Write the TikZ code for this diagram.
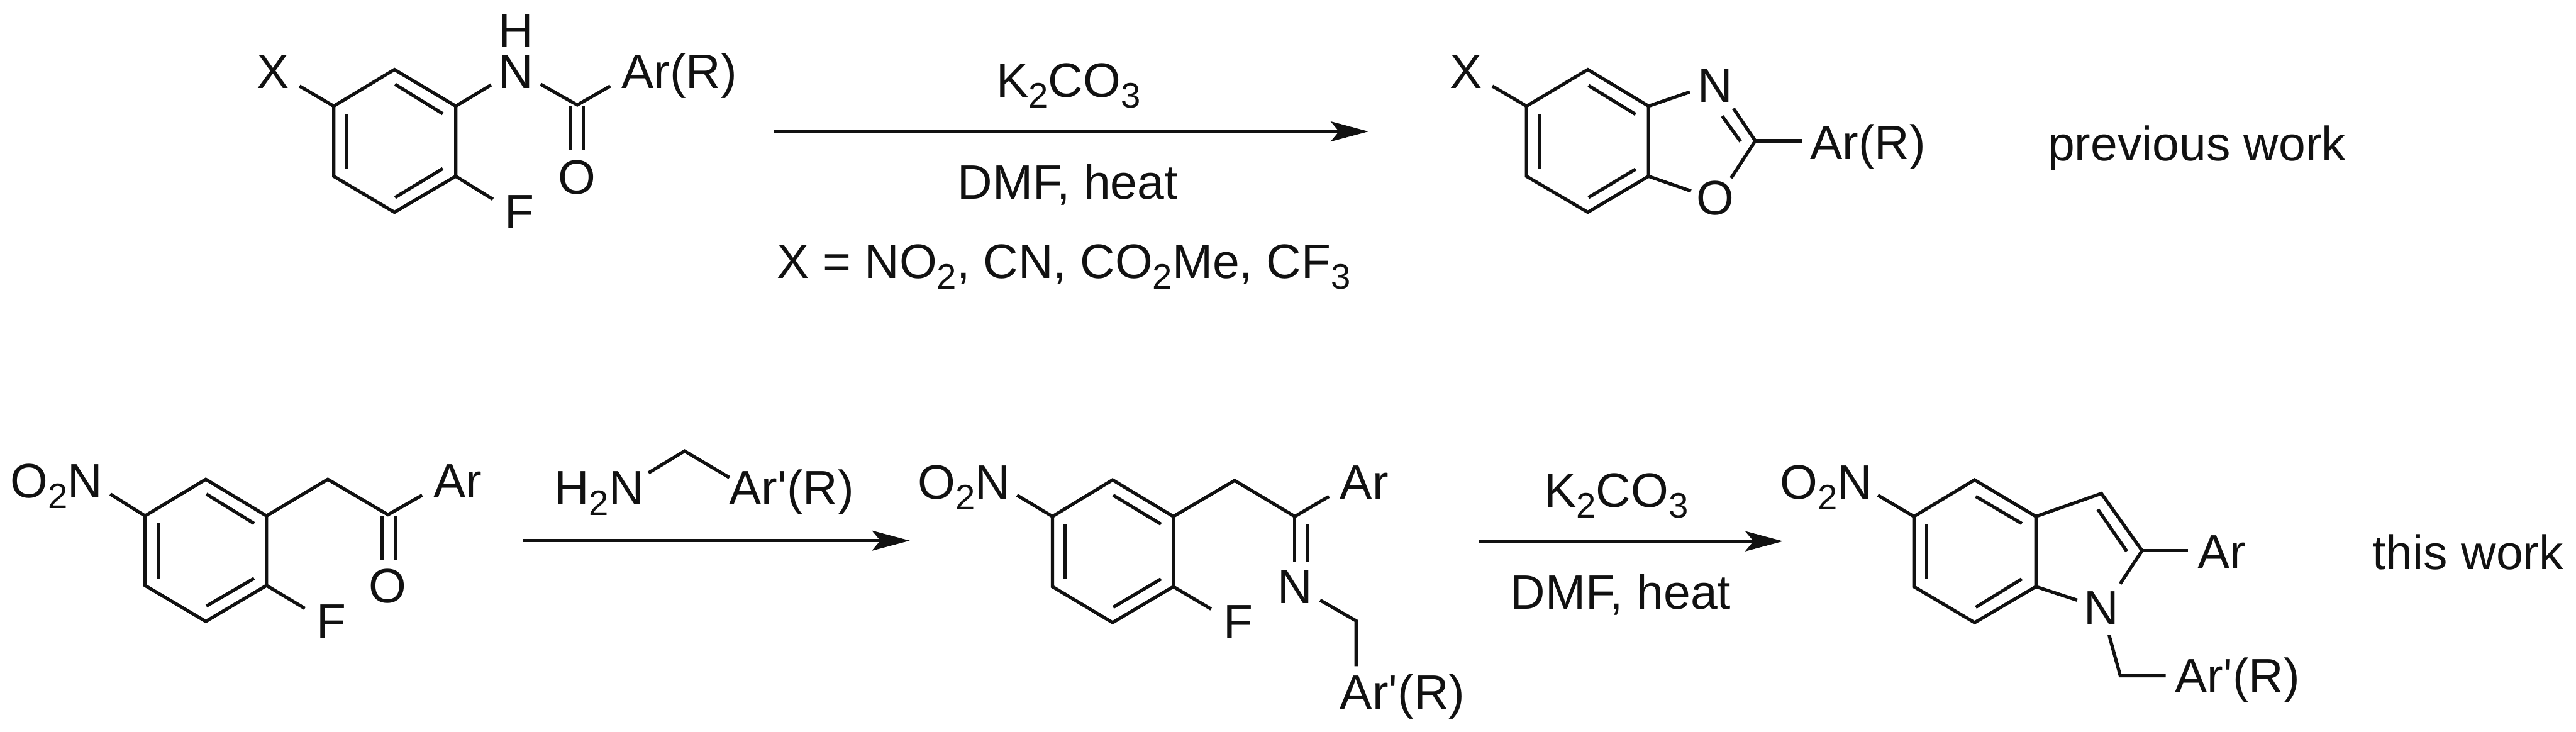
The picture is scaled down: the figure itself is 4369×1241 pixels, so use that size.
\documentclass[tikz,border=0pt]{standalone}
\usepackage{fontspec}
\setmainfont{Liberation Sans}
\newfontfamily\plainf{Liberation Sans}
\usetikzlibrary{arrows.meta}
\definecolor{ink}{HTML}{111111}
\newcommand{\sbs}[1]{\raisebox{-9pt}{\fontsize{30}{30}\selectfont #1}}
\newcommand{\prm}{{\plainf\symbol{39}}}
\tikzset{
  bond/.style={draw=ink,line width=2.8pt,line join=miter,line cap=butt},
  rxn/.style={draw=ink,line width=2.6pt,-{Stealth[length=32pt,width=17pt,inset=7pt]}},
  lbl/.style={inner sep=0pt,outer sep=0pt,text=ink,anchor=base,font=\fontsize{41}{48}\selectfont},
  lblw/.style={lbl,anchor=base west}
}
\begin{document}
\begin{tikzpicture}[x=0.5pt,y=-0.5pt]
\useasboundingbox (0,0) rectangle (4369,1241);
% molecule 1
\foreach \nm/\px/\py in {a1/669/118,a2/773/180,a3/773/299,a4/669/360,a5/566/299,a6/566/180,
  ax/508/146,an/833/144,an2/917/143,ac/979/178,aar/1035/146,af/836/338,
  ad1/968/180,ad2/968/255,ad3/989/180,ad4/989/255,
  ai1/670/143,ai2/751/193,ai3/588/193,ai4/588/286,ai5/751/286,ai6/670/335}
  \coordinate (\nm) at (\px,\py);
\draw[bond] (a1)--(a2)--(a3)--(a4)--(a5)--(a6)--cycle;
\draw[bond] (ai1)--(ai2);
\draw[bond] (ai3)--(ai4);
\draw[bond] (ai5)--(ai6);
\draw[bond] (a6)--(ax);
\draw[bond] (a2)--(an);
\draw[bond] (an2)--(ac)--(aar);
\draw[bond] (a3)--(af);
\draw[bond] (ad1)--(ad2);
\draw[bond] (ad3)--(ad4);
\node[lbl] (aX) at (463,150) {X};
\node[lbl] (aN) at (875,150) {N};
\node[lbl] (aH) at (875,81) {H};
\node[lblw] (aAr) at (1054,150) {Ar(R)};
\node[lbl] (aO) at (979,329) {O};
\node[lblw] (aF) at (856,388) {F};
% arrow 1
\coordinate (r1s) at (1313,223);
\coordinate (r1e) at (2321,223);
\draw[rxn] (r1s)--(r1e);
\node[lblw] (r1a) at (1690,165) {K\sbs{2}CO\sbs{3}};
\node[lblw] (r1b) at (1624,338) {DMF, heat};
\node[lblw] (r1c) at (1318,472) {X = NO\sbs{2}, CN, CO\sbs{2}Me, CF\sbs{3}};
% molecule 2
\foreach \nm/\px/\py in {b1/2693/118,b2/2796/180,b3/2796/299,b4/2693/360,b5/2589/299,b6/2589/180,
  bx/2531/146,bn/2866/156,bc/2977/239,bno/2940/184,bni/2921/197,bci/2952/240,
  bar/3056/239,bo/2936/302,bo2/2868/324,
  bi1/2694/145,bi2/2774/194,bi3/2611/193,bi4/2611/287,bi5/2774/287,bi6/2694/335}
  \coordinate (\nm) at (\px,\py);
\draw[bond] (b1)--(b2)--(b3)--(b4)--(b5)--(b6)--cycle;
\draw[bond] (bi1)--(bi2);
\draw[bond] (bi3)--(bi4);
\draw[bond] (bi5)--(bi6);
\draw[bond] (b6)--(bx);
\draw[bond] (b2)--(bn);
\draw[bond] (bno)--(bc)--(bo);
\draw[bond] (bni)--(bci);
\draw[bond] (bc)--(bar);
\draw[bond] (b3)--(bo2);
\node[lbl] (bX) at (2486,150) {X};
\node[lbl] (bN) at (2909,173) {N};
\node[lbl] (bO) at (2909,364) {O};
\node[lblw] (bAr) at (3070,270) {Ar(R)};
\node[lblw] (prev) at (3473,272) {previous work};
% molecule 3
\foreach \nm/\px/\py in {c1/349/813,c2/452/875,c3/452/993,c4/349/1054,c5/246/993,c6/246/875,
  cx/187/838,cch/556/813,cc/658/873,car/716/840,cf/517/1032,
  cd1/648/875,cd2/648/950,cd3/670/875,cd4/670/950,
  ci1/350/838,ci2/431/888,ci3/268/887,ci4/268/981,ci5/431/981,ci6/350/1028}
  \coordinate (\nm) at (\px,\py);
\draw[bond] (c1)--(c2)--(c3)--(c4)--(c5)--(c6)--cycle;
\draw[bond] (ci1)--(ci2);
\draw[bond] (ci3)--(ci4);
\draw[bond] (ci5)--(ci6);
\draw[bond] (c6)--(cx);
\draw[bond] (c2)--(cch)--(cc)--(car);
\draw[bond] (c3)--(cf);
\draw[bond] (cd1)--(cd2);
\draw[bond] (cd3)--(cd4);
\node[lblw] (cN) at (18,844) {O\sbs{2}N};
\node[lblw] (cAr) at (735,844) {Ar};
\node[lbl] (cO) at (658,1022) {O};
\node[lblw] (cF) at (537,1082) {F};
% arrow 2
\coordinate (r2s) at (887,917);
\coordinate (r2e) at (1543,917);
\draw[rxn] (r2s)--(r2e);
\foreach \nm/\px/\py in {e1/1100/802,e2/1161/765,e3/1237/810}
  \coordinate (\nm) at (\px,\py);
\draw[bond] (e1)--(e2)--(e3);
\node[lblw] (eN) at (940,856) {H\sbs{2}N};
\node[lblw] (eAr) at (1237,856) {Ar\prm(R)};
% molecule 4
\foreach \nm/\px/\py in {d1/1887/814,d2/1990/876,d3/1990/995,d4/1887/1056,d5/1785/995,d6/1785/876,
  dx/1725/840,dch/2094/815,dc/2196/876,dar/2254/842,df/2054/1033,
  dd1/2196/952,dd2/2217/889,dd3/2217/952,dn/2239/1018,dm/2300/1053,dq/2300/1130,
  di1/1888/840,di2/1969/889,di3/1806/889,di4/1806/982,di5/1969/982,di6/1888/1030}
  \coordinate (\nm) at (\px,\py);
\draw[bond] (d1)--(d2)--(d3)--(d4)--(d5)--(d6)--cycle;
\draw[bond] (di1)--(di2);
\draw[bond] (di3)--(di4);
\draw[bond] (di5)--(di6);
\draw[bond] (d6)--(dx);
\draw[bond] (d2)--(dch)--(dc)--(dar);
\draw[bond] (dc)--(dd1);
\draw[bond] (dd2)--(dd3);
\draw[bond] (d3)--(df);
\draw[bond] (dn)--(dm)--(dq);
\node[lblw] (dN) at (1557,846) {O\sbs{2}N};
\node[lblw] (dAr) at (2273,846) {Ar};
\node[lbl] (dNi) at (2196,1023) {N};
\node[lblw] (dF) at (2075,1083) {F};
\node[lblw] (dAp) at (2273,1203) {Ar\prm(R)};
% arrow 3
\coordinate (r3s) at (2508,918);
\coordinate (r3e) at (3024,918);
\draw[rxn] (r3s)--(r3e);
\node[lblw] (r3a) at (2619,860) {K\sbs{2}CO\sbs{3}};
\node[lblw] (r3b) at (2562,1033) {DMF, heat};
% molecule 5
\foreach \nm/\px/\py in {f1/3349/814,f2/3453/876,f3/3453/995,f4/3349/1056,f5/3246/995,f6/3246/876,
  fx/3185/840,fc3/3564/837,fc2/3633/934,far/3711/934,fi7/3558/864,fi8/3607/935,
  fn1/3596/990,fn2/3523/1018,fn3/3577/1077,fm/3596/1146,fq/3673/1146,
  fi1/3351/842,fi2/3429/888,fi3/3268/889,fi4/3268/982,fi5/3429/982,fi6/3351/1030}
  \coordinate (\nm) at (\px,\py);
\draw[bond] (f1)--(f2)--(f3)--(f4)--(f5)--(f6)--cycle;
\draw[bond] (fi1)--(fi2);
\draw[bond] (fi3)--(fi4);
\draw[bond] (fi5)--(fi6);
\draw[bond] (f6)--(fx);
\draw[bond] (f2)--(fc3)--(fc2)--(fn1);
\draw[bond] (fc2)--(far);
\draw[bond] (fi7)--(fi8);
\draw[bond] (f3)--(fn2);
\draw[bond] (fn3)--(fm)--(fq);
\node[lblw] (fN) at (3019,846) {O\sbs{2}N};
\node[lblw] (fAr) at (3727,965) {Ar};
\node[lbl] (fNi) at (3564,1060) {N};
\node[lblw] (fAp) at (3689,1175) {Ar\prm(R)};
\node[lblw] (this) at (4024,966) {this work};
\end{tikzpicture}
\end{document}
